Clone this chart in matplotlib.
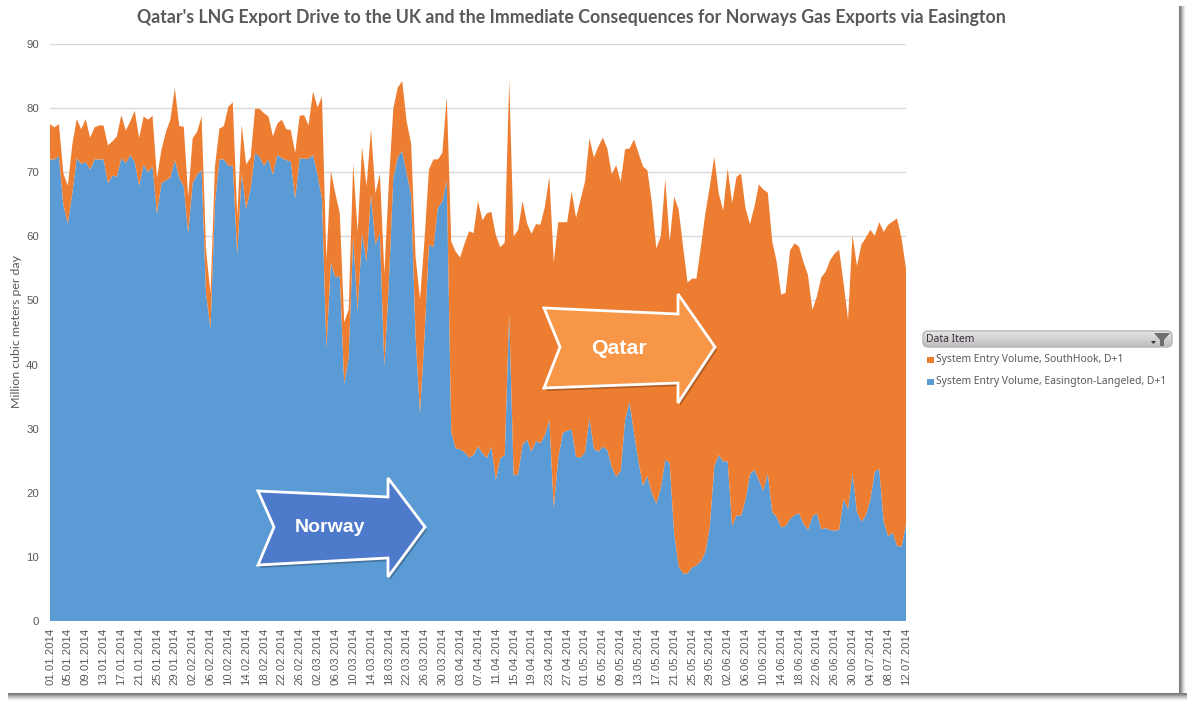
import numpy as np
import matplotlib
matplotlib.use("Agg")
import matplotlib.pyplot as plt
import pandas as pd
from matplotlib.patches import Polygon, Rectangle, FancyBboxPatch

TITLE = "Qatar's LNG Export Drive to the UK and the Immediate Consequences for Norways Gas Exports via Easington"
YLABEL = "Million cubic meters per day"
LEGEND_TITLE = "Data Item"
NAME_SOUTHHOOK = "System Entry Volume, SouthHook, D+1"
NAME_EASINGTON = "System Entry Volume, Easington-Langeled, D+1"

dates = pd.date_range("2014-01-01", "2014-07-12", freq="D")
date_labels = [d.strftime("%d.%m.%Y") for d in dates]

easington = [
 72.0,72.0,72.5,64.9,62.0,66.7,72.2,71.3,71.6,70.4,72.0,72.0,72.0,68.3,69.5,69.3,72.2,71.4,72.7,71.6,
 67.9,71.2,70.0,70.9,63.5,68.3,68.7,69.2,71.9,69.1,67.8,60.5,68.3,69.6,70.4,51.1,45.6,65.2,72.0,72.0,
 71.0,71.0,57.2,69.8,64.2,67.5,73.0,72.4,71.0,72.0,69.6,72.7,72.2,71.9,71.7,65.9,72.2,72.1,72.1,72.7,
 69.6,65.9,42.6,55.9,53.6,53.8,37.0,41.2,60.0,48.3,60.5,56.0,66.5,58.7,60.5,39.7,52.7,69.1,72.3,73.3,
 69.8,66.5,44.4,32.4,44.4,58.7,58.3,64.5,65.4,68.8,29.5,26.9,26.8,26.3,25.5,25.9,27.2,26.2,25.4,27.2,
 22.0,25.4,25.9,48.0,22.7,22.9,27.5,28.3,26.4,28.1,27.7,29.0,31.4,17.6,25.4,29.3,29.7,29.9,25.6,25.5,
 26.3,31.6,26.9,26.4,27.2,26.7,24.0,22.5,23.4,31.4,34.2,29.3,24.9,21.1,22.6,19.9,18.3,20.7,25.2,24.6,
 13.7,8.5,7.4,7.4,8.3,8.7,9.3,10.8,14.7,24.1,25.9,24.9,24.9,14.8,16.5,16.4,18.9,22.9,23.6,22.0,
 20.3,23.0,17.0,16.2,14.6,14.8,15.9,16.5,16.8,15.2,14.2,16.3,16.8,14.3,14.5,14.2,14.1,14.2,19.0,17.4,
 23.1,17.0,15.5,16.5,18.9,23.3,23.7,15.5,13.2,13.8,11.7,11.6,15.0]

total = [
 77.5,77.0,77.5,69.8,67.9,74.3,78.3,76.7,78.3,75.4,77.0,77.3,77.3,74.2,74.8,75.6,78.9,76.5,77.9,79.6,
 75.3,78.7,78.2,78.8,69.1,73.5,76.3,78.2,83.1,77.2,77.1,66.2,75.3,76.3,78.7,57.9,51.1,70.9,76.8,77.2,
 80.2,80.9,63.1,77.4,71.2,72.3,79.9,79.9,79.2,78.7,75.6,77.6,78.2,76.7,76.6,73.0,78.8,78.9,77.3,82.6,
 80.1,81.8,56.3,70.2,66.7,63.6,46.6,48.6,71.4,60.7,73.9,67.8,76.7,66.7,69.8,54.2,68.3,79.9,83.2,84.2,
 77.9,74.5,56.8,50.2,59.4,70.4,72.0,72.0,73.0,81.8,59.2,57.6,56.7,58.9,60.8,60.5,65.5,62.5,63.6,63.8,
 60.2,58.3,59.0,84.4,60.0,61.0,65.5,62.0,60.4,61.9,61.8,64.6,69.3,56.0,62.2,62.2,62.2,67.0,62.9,65.7,
 68.5,75.3,72.3,74.0,75.4,73.7,69.7,71.1,68.5,73.6,73.7,75.1,73.0,70.9,70.3,65.2,58.1,60.0,68.9,59.2,
 66.2,64.2,58.4,52.8,53.4,53.4,58.4,63.6,67.8,72.4,66.7,64.0,70.6,65.2,69.3,69.8,64.4,61.9,64.6,68.1,
 67.3,66.8,59.2,56.0,50.9,51.2,57.8,58.9,58.4,56.0,54.0,48.5,50.6,53.6,54.5,56.3,57.3,57.9,52.7,47.0,
 60.2,55.4,58.7,59.8,61.0,60.1,62.2,60.7,61.8,62.3,62.8,59.7,55.0]

southhook = [t - e for t, e in zip(total, easington)]
yticks = [0, 10, 20, 30, 40, 50, 60, 70, 80, 90]

BLUE = "#5B9BD5"
ORANGE = "#ED7D31"
GREY = "#595959"
W, H = 1194, 708

fig = plt.figure(figsize=(W / 100, H / 100), dpi=100, facecolor="white")
ax = fig.add_axes([50 / W, 1 - 621 / H, (906 - 50) / W, (621 - 44) / H])
x = np.arange(len(dates))
ax.stackplot(x, easington, southhook, colors=[BLUE, ORANGE], linewidth=0, zorder=2)
ax.set_xlim(0, len(dates) - 1)
ax.set_ylim(0, 90)
ax.set_yticks(yticks)
ax.grid(axis="y", color="#D9D9D9", linewidth=1, zorder=1)
ax.set_axisbelow(True)
for s in ax.spines.values():
    s.set_visible(False)
ax.tick_params(axis="both", length=0)
ax.set_xticks(x[::4])
ax.set_xticklabels(date_labels[::4], rotation=90, family="Liberation Sans", fontsize=8.2, color=GREY)
ax.tick_params(axis="x", pad=5)
ax.tick_params(axis="y", pad=8)
for t in ax.get_yticklabels():
    t.set_family("Liberation Sans"); t.set_fontsize(8.2); t.set_color(GREY)

# Full-figure overlay in pixel coordinates
ov = fig.add_axes([0, 0, 1, 1], facecolor="none")
ov.set_xlim(0, W); ov.set_ylim(H, 0); ov.axis("off")

ov.text(571.5, 18, TITLE, ha="center", va="center", family="Lato", weight="bold", fontsize=12.75, color=GREY)
ov.text(16.5, 332, YLABEL, rotation=90, ha="center", va="center", family="Lato", fontsize=8.95, color=GREY)

def arrow(pts, color, label, lx, ly, fs):
    shadow = [(px + 2, py + 3) for px, py in pts]
    ov.add_patch(Polygon(shadow, closed=True, fc="#000000", ec="none", alpha=0.25, zorder=3))
    ov.add_patch(Polygon(pts, closed=True, fc=color, ec="white", lw=2, joinstyle="miter", zorder=4))
    ov.text(lx, ly, label, ha="center", va="center", family="Liberation Sans", weight="bold",
            fontsize=fs, color="white", zorder=5)

arrow([(258, 491), (388, 497), (388, 478), (425, 527), (388, 577), (388, 558), (258, 565), (274, 527)],
      "#4E7ACB", "Norway", 330.5, 528, 14)
arrow([(544, 308), (678, 314), (678, 294), (715, 347), (678, 403), (678, 383), (544, 388), (560, 347)],
      "#F79646", "Qatar", 618.5, 348, 15.3)

# Legend panel
grad = np.linspace(0, 1, 32).reshape(-1, 1)
cmap = matplotlib.colors.LinearSegmentedColormap.from_list("h", ["#E6E6E6", "#BDBDBD"])
hdr = FancyBboxPatch((923, 331), 249, 16, boxstyle="round,pad=0,rounding_size=5", fc="none", ec="#B5B5B5", lw=1, zorder=4)
im = ov.imshow(grad, extent=(923, 1172, 347, 331), cmap=cmap, aspect="auto", zorder=3)
ov.add_patch(hdr); im.set_clip_path(hdr)
ov.set_xlim(0, W); ov.set_ylim(H, 0)
ov.text(926, 340, LEGEND_TITLE, ha="left", va="center", family="Noto Sans", fontsize=7.45, color="#3A2A3A", zorder=5)
ov.add_patch(Polygon([(1154, 333), (1170, 333), (1164, 340), (1164, 346), (1160, 346), (1160, 340)],
                     closed=True, fc="#6E6E6E", ec="none", zorder=5))
ov.add_patch(Polygon([(1151, 341), (1156, 341), (1153.5, 344)], closed=True, fc="#333333", ec="none", zorder=5))
for yy, c, name in [(359.5, ORANGE, NAME_SOUTHHOOK), (381.5, BLUE, NAME_EASINGTON)]:
    ov.add_patch(Rectangle((927, yy - 3), 7, 6, fc=c, ec="none"))
    ov.text(936, yy, name, ha="left", va="center", family="Noto Sans", fontsize=7.45, color=GREY)

# Window drop shadow
def shadow_strip(extent, vals):
    c = matplotlib.colors.LinearSegmentedColormap.from_list("s", ["#FFFFFF", "#7A7A7A"])
    ov.imshow(vals, extent=extent, cmap=c, vmin=0, vmax=1, aspect="auto", zorder=6, interpolation="bilinear")
prof = np.array([1, 0.85, 0.6, 0.4, 0.2, 0.05, 0])
shadow_strip((1179, 1187, 694, 6), prof.reshape(1, -1))
shadow_strip((8, 1187, 702, 693), prof.reshape(-1, 1))
ov.set_xlim(0, W); ov.set_ylim(H, 0)

fig.savefig("out.png", dpi=100)
